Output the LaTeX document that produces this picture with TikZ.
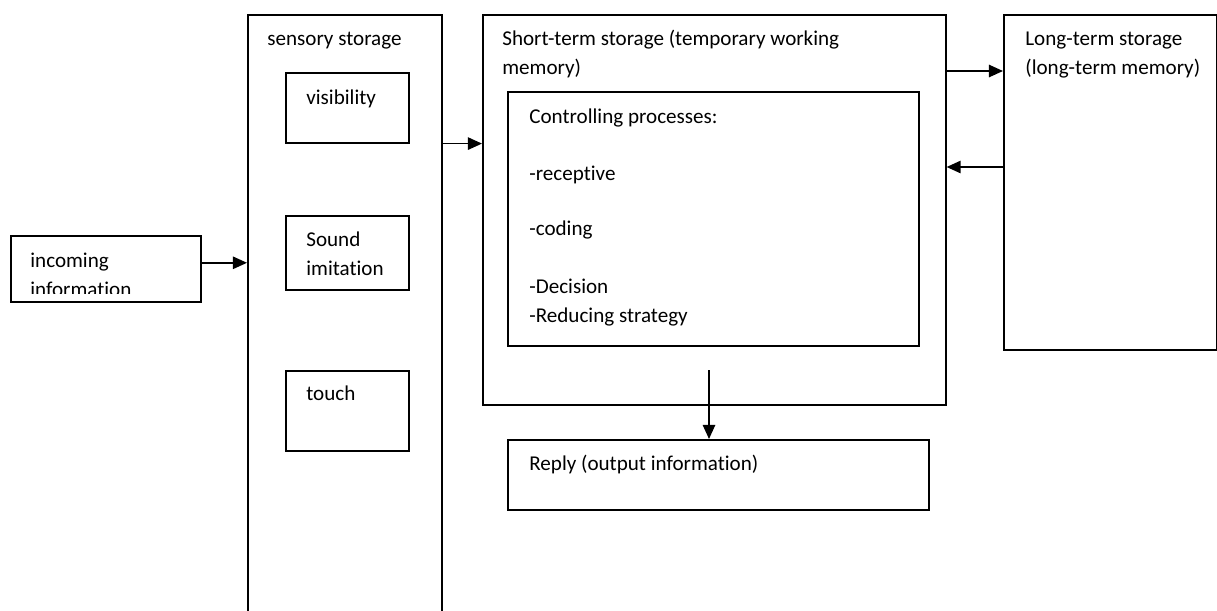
\documentclass[tikz,border=0pt]{standalone}
\usepackage{fontspec}
\setmainfont{Carlito}[Ligatures=NoCommon]
\usepackage{tikz}
\usetikzlibrary{arrows.meta}

\begin{document}
\begin{tikzpicture}[font=\fontsize{12}{14}\selectfont]
	\useasboundingbox (0,0) rectangle (24.34,-12.2);

	\begin{scope}[every node/.style={draw, rectangle, line width=0.9pt, anchor=north west, inner sep=0pt}]
		\node[minimum width=3.8cm, minimum height=1.32cm] (inc) at (0.2,-4.7) {};
		\node[minimum width=3.88cm, minimum height=12.3cm] (sens) at (4.94,-0.28) {};
		\node[minimum width=2.46cm, minimum height=1.4cm] (vis) at (5.7,-1.44) {};
		\node[minimum width=2.46cm, minimum height=1.48cm] (snd) at (5.7,-4.3) {};
		\node[minimum width=2.46cm, minimum height=1.6cm] (tch) at (5.7,-7.4) {};
		\node[minimum width=9.26cm, minimum height=7.8cm] (stm) at (9.64,-0.28) {};
		\node[minimum width=8.22cm, minimum height=5.08cm] (ctl) at (10.14,-1.82) {};
		\node[minimum width=8.42cm, minimum height=1.4cm] (rep) at (10.14,-8.78) {};
		\node[minimum width=4.26cm, minimum height=6.7cm] (ltm) at (20.06,-0.28) {};
	\end{scope}

	\begin{scope}[every node/.style={anchor=base west, inner sep=0pt}]
		\node (incA) at (0.6,-5.34) {incoming};
		\begin{scope}
			\clip (inc.south west) ++(0,0.18) rectangle (inc.north east);
			\node (incB) at (0.6,-5.92) {information};
		\end{scope}
		\node (sensT) at (5.34,-0.9) {sensory storage};
		\node (visT) at (6.12,-2.08) {visibility};
		\node (sndA) at (6.12,-4.92) {Sound};
		\node (sndB) at (6.12,-5.5) {imitation};
		\node (tchT) at (6.12,-8.0) {touch};
		\node (stmA) at (10.04,-0.9) {Short-term storage (temporary working};
		\node (stmB) at (10.04,-1.48) {memory)};
		\node (ctlA) at (10.58,-2.46) {Controlling processes:};
		\node (ctlB) at (10.58,-3.6) {-receptive};
		\node (ctlC) at (10.58,-4.7) {-coding};
		\node (ctlD) at (10.58,-5.86) {-Decision};
		\node (ctlE) at (10.58,-6.44) {-Reducing strategy};
		\node (repT) at (10.58,-9.4) {Reply (output information)};
		\node (ltmA) at (20.5,-0.9) {Long-term storage};
		\node (ltmB) at (20.5,-1.48) {(long-term memory)};
	\end{scope}

	\coordinate (toLT) at (0,-1.42);
	\coordinate (fromLT) at (0,-3.34);
	\coordinate (out) at (14.18,-7.4);

	\begin{scope}[>={Triangle[length=8pt, width=7pt]},
	              every edge/.style={draw=black, line width=1pt}]
		\path[->] ([yshift=0.12cm]inc.east) edge ([yshift=0.12cm]inc.east -| sens.west);
		\path[->] (sens.east |- vis.south) edge (stm.west |- vis.south);
		\path[->] (stm.east |- toLT) edge (ltm.west |- toLT);
		\path[->] (ltm.west |- fromLT) edge (stm.east |- fromLT);
		\path[->] (out) edge (out |- rep.north);
	\end{scope}
\end{tikzpicture}
\end{document}
